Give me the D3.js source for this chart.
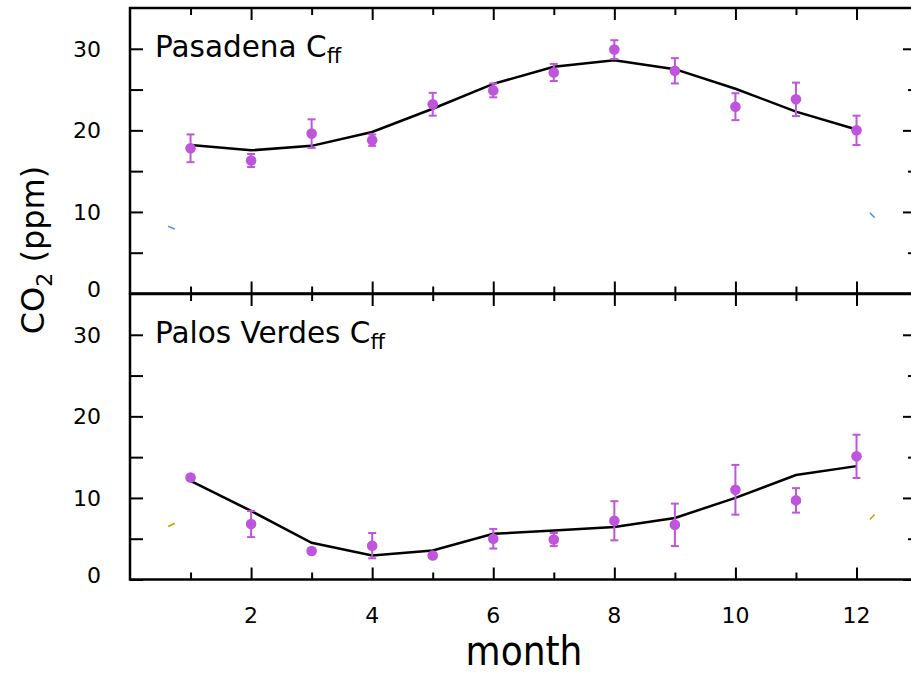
<!DOCTYPE html>
<meta charset="utf-8">
<script src="https://d3js.org/d3.v7.min.js"></script>
<style>
  body { margin: 0; background: #fff; }
  svg { display: block; }
</style>
<div id="my_dataviz"></div>
<script>

// ---- data ----
var months = [1, 2, 3, 4, 5, 6, 7, 8, 9, 10, 11, 12];

// Pasadena Cff (top panel)
var pasObs  = [17.8, 16.3, 19.6, 18.8, 23.2, 24.9, 27.1, 29.9, 27.3, 22.9, 23.8, 20.0];
var pasErr  = [1.7, 0.8, 1.75, 0.7, 1.4, 0.85, 1.05, 1.15, 1.55, 1.65, 2.05, 1.8];
var pasLine = [18.2, 17.55, 18.1, 19.8, 22.65, 25.7, 27.8, 28.6, 27.5, 25.1, 22.3, 20.1];

// Palos Verdes Cff (bottom panel)
var pvObs  = [12.5, 6.8, 3.5, 4.15, 2.95, 5.0, 4.9, 7.2, 6.7, 11.0, 9.7, 15.1];
var pvErr  = [0.3, 1.6, 0.3, 1.55, 0.3, 1.2, 0.8, 2.4, 2.6, 3.05, 1.5, 2.65];
var pvLine = [12.1, 8.4, 4.5, 2.95, 3.55, 5.6, 6.0, 6.45, 7.55, 10.0, 12.8, 13.9];

// little stray curve ends near the panel edges
var pasStubs = [[[0.63, 8.25], [0.74, 7.9]], [[12.22, 9.9], [12.30, 9.3]]];
var pvStubs  = [[[0.63, 6.5], [0.74, 6.9]], [[12.22, 7.35], [12.30, 7.97]]];

var yTickLabels = [0, 10, 20, 30];

// ---- layout ----
var W = 911, H = 674;
var left = 130, right = 911;
var panels = [
  {name: "Pasadena", obs: pasObs, err: pasErr, line: pasLine, stubs: pasStubs, stubColor: "#5b8cf5", top: 8, bottom: 293.5},
  {name: "Palos Verdes", obs: pvObs, err: pvErr, line: pvLine, stubs: pvStubs, stubColor: "#c9a000", top: 294, bottom: 579.5}
];
var purple = "#bf55dc";

var svg = d3.select("#my_dataviz")
  .append("svg")
    .attr("width", W)
    .attr("height", H);

var x = d3.scaleLinear()
  .domain([0, 12.9])
  .range([left, right]);

var oddMonths = [1, 3, 5, 7, 9, 11];
var evenMonths = [2, 4, 6, 8, 10, 12];
var minorY = [5, 15, 25];
var majorY = [0, 10, 20, 30];

panels.forEach(function(p, i) {
  var y = d3.scaleLinear()
    .domain([0, 35])
    .range([p.bottom, p.top]);

  var g = svg.append("g");

  // ticks: all inward
  function tickAxis(axis, transform) {
    var a = g.append("g")
      .attr("transform", transform)
      .call(axis);
    a.select(".domain").remove();
    a.selectAll(".tick line").attr("stroke", "#000").attr("stroke-width", 2);
    a.selectAll(".tick text").remove();
  }
  tickAxis(d3.axisBottom(x).tickValues(oddMonths).tickSize(-7), "translate(0," + p.bottom + ")");
  tickAxis(d3.axisBottom(x).tickValues(evenMonths).tickSize(-12), "translate(0," + p.bottom + ")");
  tickAxis(d3.axisTop(x).tickValues(oddMonths).tickSize(-7), "translate(0," + p.top + ")");
  tickAxis(d3.axisTop(x).tickValues(evenMonths).tickSize(-12), "translate(0," + p.top + ")");
  tickAxis(d3.axisLeft(y).tickValues(majorY.concat(minorY)).tickSize(-13), "translate(" + left + ",0)");
  tickAxis(d3.axisRight(y).tickValues(majorY).tickSize(-8), "translate(" + right + ",0)");
  tickAxis(d3.axisRight(y).tickValues(minorY).tickSize(-3), "translate(" + right + ",0)");

  // y tick labels
  g.selectAll(".ylab")
    .data(yTickLabels)
    .enter()
    .append("text")
      .attr("x", 101)
      .attr("y", function(d) { return y(d) - (d === 0 ? 4 : 0); })
      .attr("dy", "0.36em")
      .attr("text-anchor", "end")
      .style("font-family", "DejaVu Sans")
      .style("font-size", "22px")
      .text(function(d) { return d; });

  // frame
  g.append("rect")
    .attr("x", left)
    .attr("y", p.top)
    .attr("width", right - left + 2)
    .attr("height", p.bottom - p.top)
    .attr("fill", "none")
    .attr("stroke", "#000")
    .attr("stroke-width", 2.5);

  // stray curve ends
  p.stubs.forEach(function(s) {
    g.append("path")
      .datum(s)
      .attr("d", d3.line()
        .x(function(d) { return x(d[0]); })
        .y(function(d) { return y(d[1]); }))
      .attr("stroke", p.stubColor)
      .attr("stroke-width", 1.5)
      .attr("fill", "none");
  });

  // model line
  g.append("path")
    .datum(months)
    .attr("d", d3.line()
      .x(function(d) { return x(d); })
      .y(function(d, j) { return y(p.line[j]); }))
    .attr("stroke", "#000")
    .attr("stroke-width", 2.5)
    .attr("fill", "none");

  // error bars
  var eb = g.selectAll(".eb")
    .data(months)
    .enter()
    .append("g");
  eb.append("line")
    .attr("x1", function(d) { return x(d); })
    .attr("x2", function(d) { return x(d); })
    .attr("y1", function(d, j) { return y(p.obs[j] + p.err[j]); })
    .attr("y2", function(d, j) { return y(p.obs[j] - p.err[j]); })
    .attr("stroke", purple)
    .attr("stroke-width", 2);
  [1, -1].forEach(function(sgn) {
    eb.append("line")
      .attr("x1", function(d) { return x(d) - 4; })
      .attr("x2", function(d) { return x(d) + 4; })
      .attr("y1", function(d, j) { return y(p.obs[j] + sgn * p.err[j]); })
      .attr("y2", function(d, j) { return y(p.obs[j] + sgn * p.err[j]); })
      .attr("stroke", purple)
      .attr("stroke-width", 2);
  });

  // observed dots
  g.selectAll(".dot")
    .data(months)
    .enter()
    .append("circle")
      .attr("cx", function(d) { return x(d); })
      .attr("cy", function(d, j) { return y(p.obs[j]); })
      .attr("r", 5.3)
      .attr("fill", purple);

  // panel label
  var t = g.append("text")
    .attr("x", 155)
    .attr("y", p.top + 49)
    .style("font-family", "DejaVu Sans")
    .style("font-size", "29.5px")
    .text(p.name + " C");
  t.append("tspan")
    .attr("dy", 6)
    .style("font-size", "21px")
    .text("ff");
});

// x tick labels
svg.selectAll(".xlab")
  .data(evenMonths)
  .enter()
  .append("text")
    .attr("x", function(d) { return x(d); })
    .attr("y", 623)
    .attr("text-anchor", "middle")
    .style("font-family", "DejaVu Sans")
    .style("font-size", "22px")
    .text(function(d) { return d; });

// axis titles
svg.append("text")
  .attr("x", 524)
  .attr("y", 665)
  .attr("text-anchor", "middle")
  .style("font-family", "DejaVu Sans Condensed")
  .style("font-size", "40px")
  .text("month");

var yl = svg.append("text")
  .attr("transform", "translate(44,250) rotate(-90)")
  .attr("text-anchor", "middle")
  .style("font-family", "DejaVu Sans")
  .style("font-size", "32px")
  .text("CO");
yl.append("tspan")
  .attr("dy", 8)
  .style("font-size", "22px")
  .text("2");
yl.append("tspan")
  .attr("dy", -8)
  .text(" (ppm)");

</script>
